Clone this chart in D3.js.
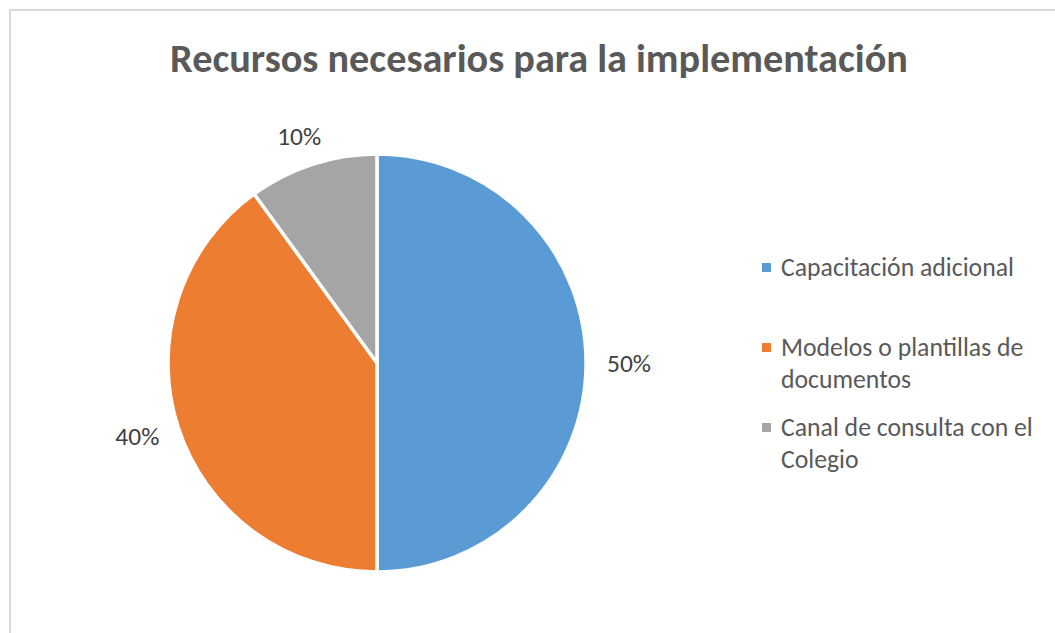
<!DOCTYPE html>
<html>
<head>
<meta charset="utf-8">
<script src="https://cdn.jsdelivr.net/npm/d3@7"></script>
<style>
  body { margin: 0; background: #fff; }
  svg { display: block; }
  text { font-family: Calibri, Carlito, Lato, sans-serif; }
</style>
</head>
<body>
<div id="chart"></div>
<script>
const width = 1055;
const height = 633;

const titulo = "Recursos necesarios para la implementación";
const categorias = ["Capacitación adicional", "Modelos o plantillas de documentos", "Canal de consulta con el Colegio"];
const lineasLeyenda = [["Capacitación adicional"], ["Modelos o plantillas de", "documentos"], ["Canal de consulta con el", "Colegio"]];
const valores = [50, 40, 10];
const colores = ["#5B9BD5", "#ED7D31", "#A5A5A5"];

const svg = d3.select("#chart").append("svg")
  .attr("width", width)
  .attr("height", height);

// marco del grafico
svg.append("rect")
  .attr("x", 10).attr("y", 10)
  .attr("width", width + 20).attr("height", height + 20)
  .attr("fill", "none")
  .attr("stroke", "#d9d9d9")
  .attr("stroke-width", 2);

// ajusta el tamaño de fuente para que el texto mida lo que mide en la imagen
function ajustar(sel, ancho) {
  sel.attr("font-size", 100);
  const w = sel.node().getComputedTextLength();
  sel.attr("font-size", (100 * ancho) / w);
}

const t = svg.append("text")
  .attr("x", 539).attr("y", 72)
  .attr("text-anchor", "middle")
  .attr("font-weight", "bold")
  .attr("fill", "#595959")
  .text(titulo);
ajustar(t, 738);

const cx = 377, cy = 363, R = 209;
const g = svg.append("g").attr("transform", `translate(${cx},${cy})`);

const pie = d3.pie().sort(null).value((d) => d);
const arcos = pie(valores);
const arc = d3.arc().innerRadius(0).outerRadius(R);

g.selectAll("path")
  .data(arcos)
  .join("path")
  .attr("d", arc)
  .attr("fill", (d, i) => colores[i])
  .attr("stroke", "#fff")
  .attr("stroke-width", 3.5)
  .attr("stroke-linejoin", "round");

// etiquetas de porcentaje fuera del pastel
const total = d3.sum(valores);
const rEtiqueta = 230;
const etiquetas = g.selectAll("text.et")
  .data(arcos)
  .join("text")
  .attr("class", "et")
  .attr("fill", "#404040")
  .attr("text-anchor", "middle")
  .text((d) => Math.round((d.value / total) * 100) + "%");
let tamEt = 0;
etiquetas.each(function () {
  const s = d3.select(this);
  if (!tamEt) { ajustar(s, 44); tamEt = +s.attr("font-size"); }
  s.attr("font-size", tamEt);
});
etiquetas.each(function (d) {
  const a = (d.startAngle + d.endAngle) / 2;
  const w = this.getComputedTextLength();
  const h = 17;
  const x = Math.sin(a) * (rEtiqueta + w / 2);
  const y = -Math.cos(a) * (rEtiqueta + h / 2);
  d3.select(this).attr("x", x).attr("y", y + h / 2);
});

// leyenda
const y0Leyenda = [276, 356, 436];
const leyenda = svg.append("g");
let tamLey = 0;
lineasLeyenda.forEach((lineas, i) => {
  leyenda.append("rect")
    .attr("x", 762).attr("y", y0Leyenda[i] - 13)
    .attr("width", 9).attr("height", 9)
    .attr("fill", colores[i]);
  const tx = leyenda.append("text")
    .attr("x", 781).attr("y", y0Leyenda[i])
    .attr("fill", "#595959");
  lineas.forEach((l, j) => {
    tx.append("tspan").attr("x", 781).attr("dy", j ? 32 : 0).text(l);
  });
  if (!tamLey) { ajustar(tx, 233); tamLey = +tx.attr("font-size"); }
  tx.attr("font-size", tamLey);
});
</script>
</body>
</html>
